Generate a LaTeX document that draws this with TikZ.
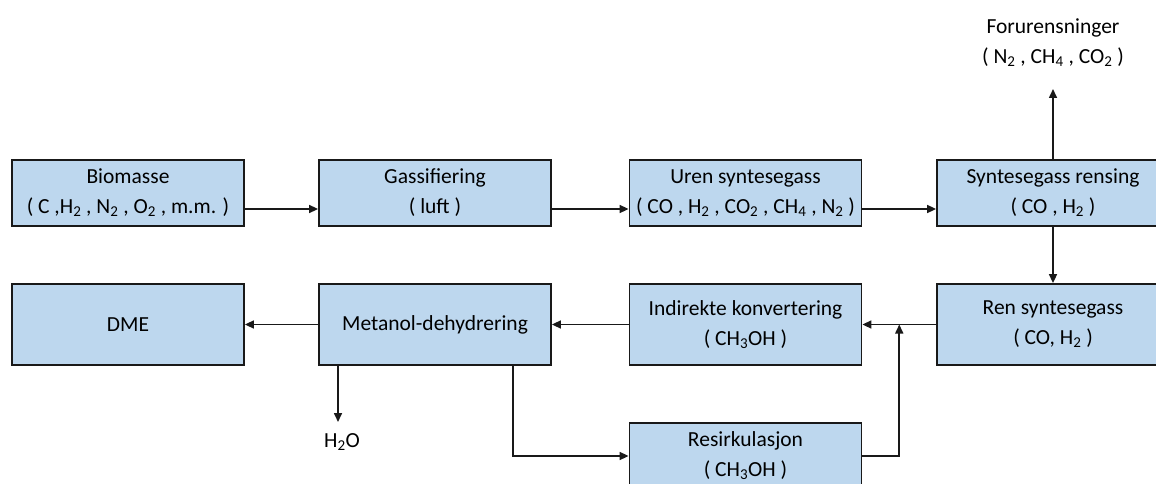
\documentclass[tikz,border=0pt]{standalone}
\usepackage{fontspec}
\setmainfont{Carlito}
\usetikzlibrary{arrows.meta,calc}
\newcommand{\BW}{232}
\newcommand{\XA}{128}
\newcommand{\XB}{435}
\newcommand{\XC}{745.5}
\newcommand{\XD}{1053}
\newcommand{\YT}{193}
\newcommand{\YM}{324.5}
\newcommand{\YR}{456}
\newcommand{\ix}[1]{\textsubscript{#1}}
\definecolor{procfill}{RGB}{189,215,238}

\begin{document}
\begin{tikzpicture}[
    x=1pt, y=-1pt,
    >={Triangle[length=9pt,width=8pt]},
    proc/.style={draw=black!90, fill=procfill, line width=1.8pt, minimum width=\BW, minimum height=66, inner sep=0pt, align=center, font=\fontsize{21.5}{30}\selectfont},
    tall/.style={proc, minimum height=81},
    flow/.style={->, line width=1.6pt, draw=black!90},
    tag/.style={align=center, inner sep=0pt, font=\fontsize{21.5}{30}\selectfont},
  ]
  \useasboundingbox (0,0) rectangle (1156,484);

  %% ================= upper row: from biomass to clean gas =================
  \node[proc] (bio)  at (\XA,\YT) {Biomasse\\( C ,H\ix{2} , N\ix{2} , O\ix{2} , m.m. )};
  \node[proc] (gas)  at (\XB,\YT) {Gassifiering\\( luft )};
  \node[proc] (uren) at (\XC,\YT) {Uren syntesegass\\( CO , H\ix{2} , CO\ix{2} , CH\ix{4} , N\ix{2} )};
  \node[proc] (rens) at (\XD,\YT) {Syntesegass rensing\\( CO , H\ix{2} )};

  \node[tag] (foru) at (\XD,43) {Forurensninger\\( N\ix{2} , CH\ix{4} , CO\ix{2} )};
  \coordinate (forutip) at (\XD,89);

  %% ================= lower row: synthesis and dehydration =================
  \node[tall] (ren) at (\XD,\YM) {Ren syntesegass\\( CO, H\ix{2} )};
  \node[tall] (ind) at (\XC,\YM) {Indirekte konvertering\\( CH\ix{3}OH )};
  \node[tall] (met) at (\XB,\YM) {Metanol-dehydrering};
  \node[tall] (dme) at (\XA,\YM) {DME};
  \node[proc] (res) at (\XC,\YR) {Resirkulasjon\\( CH\ix{3}OH )};

  \node[tag] (h2o) at (342,442) {H\ix{2}O};
  \coordinate (h2otip) at (338,422);

  % main stream along the top, taken at the second text line
  \foreach \a/\b in {bio/gas, gas/uren, uren/rens} {
    \draw[flow] ([yshift=-16pt]\a.east) -- ([yshift=-16pt]\b.west);
  }
  \draw[flow] (rens.north) -- (forutip);
  \draw[flow] (rens) -- (ren);
  \draw[flow] (ren) -- (ind);
  \draw[flow] (ind) -- (met);
  \draw[flow] (met) -- (dme);

  % water out, methanol back through the recycle loop
  \draw[flow] (h2otip |- met.south) -- (h2otip);
  \draw[flow] ([xshift=78pt]met.south) |- (res.west);
  \coordinate (join) at ($(ren.west)!0.5!(ind.east)$);
  \draw[flow] (res.east) -| (join);

\end{tikzpicture}
\end{document}
